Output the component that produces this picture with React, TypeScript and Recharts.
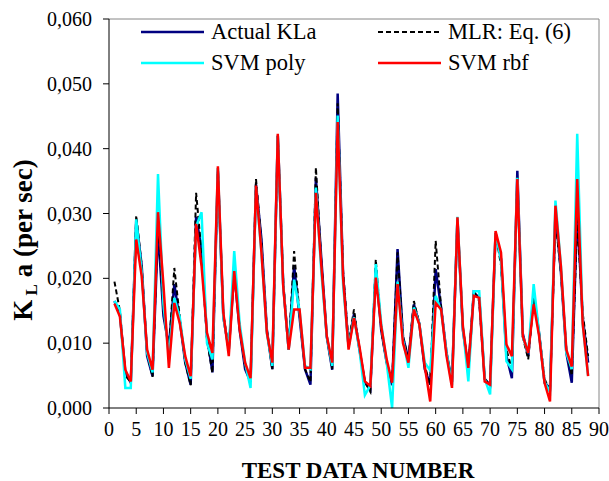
import React from "react";
import {
  LineChart,
  Line,
  XAxis,
  YAxis,
  ReferenceLine,
} from "recharts";

// values, in units of 0.001 per sec
const testNumbers = Array.from({ length: 88 }, (_, i) => i + 1);

const actualKla = [
  16.5, 14.5, 5.5, 3.9, 29.0, 22.0, 8.0, 4.9, 27.5, 14.2,
  9.5, 19.1, 13.5, 7.0, 3.6, 29.5, 24.5, 11.0, 5.5, 36.5,
  14.0, 9.0, 21.0, 12.0, 6.0, 4.0, 34.5, 26.0, 12.0, 6.0,
  42.0, 19.0, 9.0, 22.0, 14.0, 6.0, 3.6, 35.5, 23.0, 11.0,
  5.9, 48.5, 20.5, 9.5, 14.5, 9.0, 4.0, 2.8, 21.5, 12.0,
  7.0, 3.5, 24.5, 11.0, 7.5, 16.0, 13.0, 6.0, 3.6, 21.4,
  15.5, 8.5, 4.0, 29.2, 12.0, 6.0, 17.8, 17.0, 4.5, 3.5,
  27.0, 23.0, 8.0, 4.6, 36.6, 11.5, 8.0, 17.5, 11.5, 3.9,
  3.0, 30.0, 21.0, 8.5, 3.9, 30.5, 14.0, 7.0,
];

const mlrEq6 = [
  19.5, 15.0, 5.0, 4.0, 29.7, 22.0, 8.5, 4.8, 29.0, 15.0,
  9.0, 21.6, 14.0, 7.0, 3.5, 33.2, 24.0, 10.5, 5.4, 37.0,
  14.5, 9.0, 21.5, 12.5, 6.5, 4.0, 35.3, 25.5, 12.0, 5.9,
  42.0, 19.5, 9.0, 24.2, 14.5, 6.0, 4.0, 37.1, 22.5, 11.0,
  6.0, 47.0, 21.0, 10.0, 15.2, 9.0, 4.0, 2.5, 22.9, 12.0,
  7.0, 4.0, 24.0, 11.0, 7.5, 16.5, 13.0, 6.5, 3.5, 25.8,
  15.5, 8.5, 4.0, 29.2, 12.5, 6.0, 18.0, 16.5, 4.5, 3.5,
  27.0, 22.0, 9.0, 6.0, 35.5, 11.0, 7.5, 17.0, 11.5, 4.5,
  2.5, 29.0, 21.0, 9.0, 5.0, 29.0, 14.7, 8.0,
];

const svmPoly = [
  16.5, 15.2, 3.1, 3.1, 29.1, 21.0, 8.5, 5.5, 36.1, 16.0,
  8.0, 17.0, 14.0, 7.5, 4.5, 28.0, 30.2, 10.0, 7.5, 37.0,
  14.0, 9.0, 24.2, 13.0, 7.0, 3.1, 34.0, 24.0, 11.5, 6.5,
  42.0, 19.0, 9.0, 19.8, 15.0, 6.5, 6.0, 34.0, 21.0, 11.0,
  6.5, 45.1, 19.0, 9.5, 14.0, 9.0, 2.0, 3.5, 22.2, 13.0,
  7.0, 0.0, 19.5, 10.5, 6.2, 15.5, 13.0, 7.0, 5.8, 17.3,
  15.0, 8.5, 3.5, 29.5, 12.5, 4.1, 18.0, 18.0, 4.5, 2.1,
  27.0, 22.9, 7.2, 6.0, 35.5, 11.0, 8.5, 19.1, 11.5, 4.0,
  2.5, 32.0, 22.0, 8.5, 6.0, 42.3, 13.0, 5.0,
];

const svmRbf = [
  16.1, 14.1, 5.9, 4.1, 26.0, 20.4, 9.0, 5.9, 30.2, 19.0,
  6.2, 16.2, 13.1, 8.0, 4.9, 28.4, 21.9, 11.6, 8.5, 37.3,
  14.7, 8.0, 21.1, 12.1, 7.0, 4.6, 34.3, 24.0, 11.6, 7.0,
  42.3, 18.8, 9.0, 15.2, 15.2, 6.2, 6.2, 33.2, 21.9, 11.1,
  7.0, 44.1, 20.0, 9.0, 13.9, 9.5, 4.1, 3.4, 20.1, 12.6,
  7.5, 3.9, 19.1, 10.0, 7.0, 15.2, 12.9, 6.4, 1.0, 16.2,
  15.2, 8.0, 3.1, 29.4, 12.6, 6.2, 17.3, 17.0, 4.1, 3.6,
  27.3, 24.0, 9.8, 8.0, 35.3, 11.1, 8.5, 16.0, 11.1, 3.9,
  1.0, 31.2, 21.9, 9.0, 6.4, 35.3, 13.1, 4.9,
];

const xTicks = [0, 5, 10, 15, 20, 25, 30, 35, 40, 45, 50, 55, 60, 65, 70, 75, 80, 85, 90];
const yTicks = [0, 0.01, 0.02, 0.03, 0.04, 0.05, 0.06];

const FONT = "'Liberation Serif', 'Times New Roman', serif";

const series = [
  { key: "actual", name: "Actual KLa", color: "#000080", dash: undefined, width: 2.5 },
  { key: "mlr", name: "MLR: Eq. (6)", color: "#000000", dash: "5 3", width: 2 },
  { key: "poly", name: "SVM poly", color: "#00FFFF", dash: undefined, width: 2.5 },
  { key: "rbf", name: "SVM rbf", color: "#FF0000", dash: undefined, width: 2.5 },
];

const data = testNumbers.map((n, i) => ({
  n,
  actual: actualKla[i] / 1000,
  mlr: mlrEq6[i] / 1000,
  poly: svmPoly[i] / 1000,
  rbf: svmRbf[i] / 1000,
}));

// two-column legend sitting inside the plot box
const LegendBox = () => (
  <div
    style={{
      position: "absolute",
      left: 141,
      top: 19.5,
      display: "grid",
      gridTemplateColumns: "237px 200px",
      rowGap: 7.5,
      fontFamily: FONT,
      fontSize: 22.5,
      color: "#000",
      pointerEvents: "none",
    }}
  >
    {series.map((s) => (
      <div key={s.key} style={{ display: "flex", alignItems: "center", height: 24, whiteSpace: "nowrap" }}>
        <svg width={63} height={6} style={{ marginRight: 7 }}>
          <line
            x1={0}
            y1={3}
            x2={63}
            y2={3}
            stroke={s.color}
            strokeWidth={s.width}
            strokeDasharray={s.dash}
          />
        </svg>
        <span>{s.name}</span>
      </div>
    ))}
  </div>
);

export default function App() {
  return (
    <div style={{ position: "absolute", left: 0, top: 0, width: 609, height: 481, background: "#fff" }}>
      <LineChart
        width={609}
        height={481}
        data={data}
        margin={{ top: 19, right: 10, left: 0, bottom: 0 }}
      >
        <XAxis
          dataKey="n"
          type="number"
          domain={[0, 90]}
          ticks={xTicks}
          interval={0}
          height={73}
          stroke="#000"
          tickSize={6}
          tickMargin={8}
          tick={{ fontSize: 20, fill: "#000", fontFamily: FONT }}
          label={() => (
            <text
              x={358}
              y={470}
              textAnchor="middle"
              dominantBaseline="central"
              fontFamily={FONT}
              fontWeight="bold"
              fontSize={23}
              fill="#000"
            >
              TEST DATA NUMBER
            </text>
          )}
        />
        <YAxis
          type="number"
          domain={[0, 0.06]}
          ticks={yTicks}
          interval={0}
          width={109}
          stroke="#000"
          tickSize={6}
          tickMargin={11}
          tickFormatter={(v: number) => v.toFixed(3).replace(".", ",")}
          tick={{ fontSize: 20, fill: "#000", fontFamily: FONT }}
          label={() => (
            <text
              transform="translate(32,240) rotate(-90)"
              textAnchor="middle"
              fontFamily={FONT}
              fontWeight="bold"
              fontSize={27}
              fill="#000"
            >
              K
              <tspan fontSize={17} dy={5}> L</tspan>
              <tspan dy={-5}> a (per sec)</tspan>
            </text>
          )}
        />
        {/* plot box: top and right edges */}
        <ReferenceLine y={0.06} stroke="#868686" strokeWidth={1} />
        <ReferenceLine x={90} stroke="#868686" strokeWidth={1} />
        {series.map((s) => (
          <Line
            key={s.key}
            dataKey={s.key}
            name={s.name}
            type="linear"
            stroke={s.color}
            strokeWidth={s.width}
            strokeDasharray={s.dash}
            dot={false}
            activeDot={false}
            isAnimationActive={false}
          />
        ))}
      </LineChart>
      <LegendBox />
    </div>
  );
}
